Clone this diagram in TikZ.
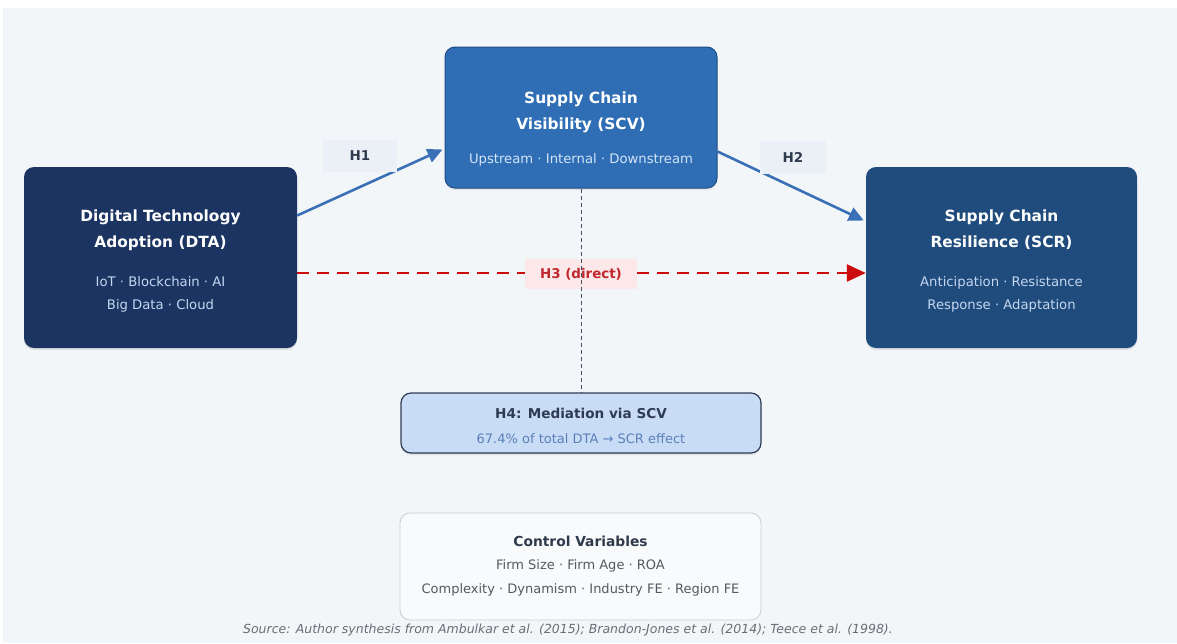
\documentclass[tikz,border=0pt]{standalone}
\usepackage{fontspec}
\setmainfont{DejaVu Sans}
\usetikzlibrary{arrows.meta,calc,shadows}

\definecolor{pagebg}{HTML}{F3F6F9}
\definecolor{dtafill}{HTML}{1B3461}
\definecolor{scvfill}{HTML}{2F6EB5}
\definecolor{scvline}{HTML}{1F4E85}
\definecolor{scrfill}{HTML}{1F4C7C}
\definecolor{subdta}{HTML}{C4D6F0}
\definecolor{subscv}{HTML}{D3E4F7}
\definecolor{linkblue}{HTML}{3B6FB6}
\definecolor{linkred}{HTML}{CC0C0C}
\definecolor{hlabelbg}{HTML}{EAF0F6}
\definecolor{hlabeltx}{HTML}{2E3B50}
\definecolor{redlabelbg}{HTML}{FCE8E9}
\definecolor{redlabeltx}{HTML}{C0282E}
\definecolor{medfill}{HTML}{C9DCF6}
\definecolor{medline}{HTML}{2E3B52}
\definecolor{medsub}{HTML}{5B80B8}
\definecolor{ctrlfill}{HTML}{F8FAFC}
\definecolor{ctrlline}{HTML}{C9CED5}
\definecolor{ctrltitle}{HTML}{2F3A4A}
\definecolor{ctrltext}{HTML}{555A62}
\definecolor{srctext}{HTML}{6A6E74}

\tikzset{
  card/.style={rounded corners=10pt, inner sep=0pt,
    drop shadow={shadow xshift=0pt, shadow yshift=-2pt, opacity=0.18}},
  cardtitle/.style={inner sep=0pt, align=center, text=white,
    font=\fontsize{15.4}{26.5}\selectfont\bfseries},
  cardsub/.style={inner sep=0pt, align=center,
    font=\fontsize{13.2}{23}\selectfont},
  hlabel/.style={fill=hlabelbg, text=hlabeltx, inner sep=0pt,
    font=\fontsize{13.5}{15}\selectfont\bfseries},
  link/.style={draw=linkblue, line width=2.6pt,
    -{Triangle[length=15pt,width=14pt]}},
}

\begin{document}
\begin{tikzpicture}[x=1pt,y=-1pt]
  \useasboundingbox (0,0) rectangle (1177,643);
  \fill[white] (0,0) rectangle (1177,643);
  \fill[pagebg] (3,8) rectangle (1177,643);

  % construct boxes
  \node[card, fill=dtafill, minimum width=273pt, minimum height=181pt] (dta) at (160.5,257.5) {};
  \node[card, fill=scvfill, draw=scvline, line width=1pt, minimum width=272pt, minimum height=141pt] (scv) at (581,117.5) {};
  \node[card, fill=scrfill, minimum width=271pt, minimum height=181pt] (scr) at (1001.5,257.5) {};

  \node[cardtitle] (dtatitle) at (160.5,230) {Digital Technology\\Adoption (DTA)};
  \node[cardsub, text=subdta] (dtasub) at (160.5,294) {IoT · Blockchain · AI\\Big Data · Cloud};

  \node[cardtitle] (scvtitle) at (581,112.5) {Supply Chain\\Visibility (SCV)};
  \node[cardsub, text=subscv] (scvsub) at (581,160) {Upstream · Internal · Downstream};

  \node[cardtitle] (scrtitle) at (1001.5,229.5) {Supply Chain\\Resilience (SCR)};
  \node[cardsub, text=subdta] (scrsub) at (1001.5,294) {Anticipation · Resistance\\Response · Adaptation};

  % mediation box
  \node[card, fill=medfill, draw=medline, line width=1.2pt, minimum width=360pt, minimum height=60pt] (med) at (581,423) {};
  \node[inner sep=0pt, text=medline, font=\fontsize{13.6}{15}\selectfont\bfseries] (medtitle) at (581,413) {H4: Mediation via SCV};
  \node[inner sep=0pt, text=medsub, font=\fontsize{13}{15}\selectfont] (medsub) at (581,439) {67.4\% of total DTA → SCR effect};

  % control variables
  \node[rounded corners=10pt, fill=ctrlfill, draw=ctrlline, line width=0.8pt, minimum width=361pt, minimum height=107pt] (ctrl) at (580.5,566.5) {};
  \node[inner sep=0pt, text=ctrltitle, font=\fontsize{13.8}{15}\selectfont\bfseries] (ctrltitle) at (580.5,541) {Control Variables};
  \node[inner sep=0pt, align=center, text=ctrltext, font=\fontsize{13}{24}\selectfont] (ctrlsub) at (580.5,578) {Firm Size · Firm Age · ROA\\Complexity · Dynamism · Industry FE · Region FE};

  % source line
  \node[inner sep=0pt, text=srctext, font=\fontsize{12.5}{14}\selectfont\itshape] (src) at (568,630)
    {Source: Author synthesis from Ambulkar et al. (2015); Brandon-Jones et al. (2014); Teece et al. (1998).};

  % hypothesised paths
  \draw[link] ($(dta.east)+(0,-42)$) -- ($(scv.west)+(-2,32)$);
  \draw[link] ($(scv.east)+(0,34)$) -- ($(scr.west)+(-2,-37)$);
  \node[hlabel, minimum width=74pt, minimum height=32pt] (h1) at (360,156) {H1};
  \node[hlabel, minimum width=66pt, minimum height=33pt] (h2) at (793,157.5) {H2};

  \draw[draw=linkred, line width=2.6pt, dash pattern=on 12pt off 8pt,
        -{Triangle[length=19pt,width=17pt]}]
    ($(dta.east)+(0,15.5)$) -- ($(scr.west)+(0,15.5)$);
  \node[fill=redlabelbg, text=redlabeltx, inner sep=0pt, minimum width=112pt, minimum height=30pt,
        font=\fontsize{13.4}{15}\selectfont\bfseries] (h3) at (581,274) {H3 (direct)};

  % mediation link
  \draw[draw=medline!90, line width=1pt, dash pattern=on 4pt off 3pt] (scv.south) -- (med.north);
\end{tikzpicture}
\end{document}
